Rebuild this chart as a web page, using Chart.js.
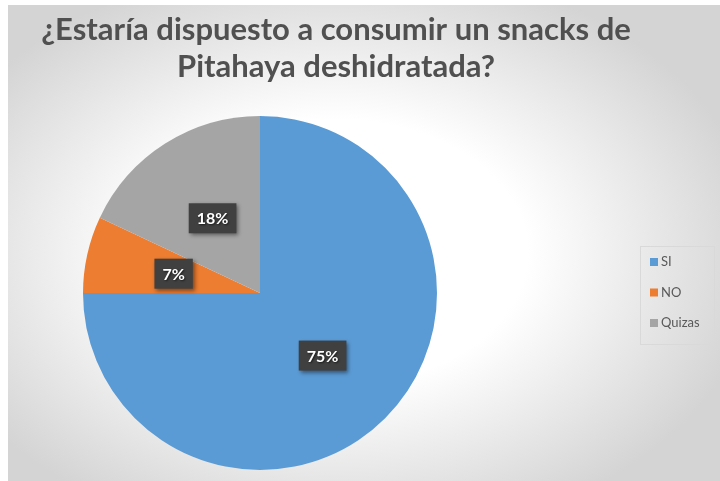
<!DOCTYPE html>
<html>
<head>
<meta charset="utf-8">
<script src="https://cdn.jsdelivr.net/npm/chart.js@4/dist/chart.umd.min.js"></script>
<style>
  html, body { margin: 0; padding: 0; background: #ffffff; }
  #wrap {
    position: absolute; left: 8px; top: 5px; width: 712px; height: 476px;
    background: radial-gradient(ellipse 60% 62% at 46% 52%, #ffffff 45%, #d4d4d4 100%);
  }
  canvas { display: block; }
</style>
</head>
<body>
<div id="wrap"><canvas id="chart" width="712" height="476"></canvas></div>
<script>
// data
const labels = ['SI', 'NO', 'Quizas'];
const values = [75, 7, 18];
const colors = ['#5B9BD5', '#ED7D31', '#A5A5A5'];
const titleLines = ['¿Estaría dispuesto a consumir un snacks de', 'Pitahaya deshidratada?'];

const FONT = 'Lato, "Open Sans", sans-serif';

// title + legend drawn on the canvas
const decorPlugin = {
  id: 'decor',
  afterDraw(chart) {
    const ctx = chart.ctx;
    ctx.save();
    ctx.fillStyle = '#505050';
    ctx.font = 'bold 31px ' + FONT;
    ctx.textAlign = 'center';
    ctx.textBaseline = 'alphabetic';
    ctx.fillText(titleLines[0], 328, 35);
    ctx.fillText(titleLines[1], 328, 72);

    // legend box
    ctx.strokeStyle = '#d9d9d9';
    ctx.lineWidth = 1;
    ctx.strokeRect(632.5, 241.5, 74, 98);
    ctx.textAlign = 'left';
    ctx.textBaseline = 'middle';
    ctx.font = '13px ' + FONT;
    labels.forEach((lab, i) => {
      const y = 257 + i * 30.5;
      ctx.fillStyle = colors[i];
      ctx.fillRect(642, y - 4, 8, 8);
      ctx.fillStyle = '#595959';
      ctx.fillText(lab, 653, y);
    });
    ctx.restore();
  }
};

// dark percentage boxes on the slices
const labelPlugin = {
  id: 'sliceLabels',
  afterDatasetsDraw(chart) {
    const ctx = chart.ctx;
    const meta = chart.getDatasetMeta(0);
    ctx.save();
    ctx.font = 'bold 16px ' + FONT;
    ctx.textAlign = 'center';
    ctx.textBaseline = 'middle';
    meta.data.forEach((arc, i) => {
      const p = arc.tooltipPosition();
      const txt = values[i] + '%';
      const w = ctx.measureText(txt).width + 16;
      const h = 30;
      ctx.shadowColor = 'rgba(0,0,0,0.45)';
      ctx.shadowBlur = 4;
      ctx.shadowOffsetX = 2;
      ctx.shadowOffsetY = 2;
      ctx.fillStyle = '#404040';
      ctx.fillRect(p.x - w / 2, p.y - h / 2, w, h);
      ctx.shadowColor = 'rgba(0,0,0,0.6)';
      ctx.shadowBlur = 2;
      ctx.shadowOffsetX = 1;
      ctx.shadowOffsetY = 1;
      ctx.fillStyle = '#ffffff';
      ctx.fillText(txt, p.x, p.y + 1);
    });
    ctx.restore();
  }
};

const ctx = document.getElementById('chart').getContext('2d');
new Chart(ctx, {
  type: 'pie',
  data: {
    labels: labels,
    datasets: [{
      data: values,
      backgroundColor: colors,
      borderWidth: 0
    }]
  },
  options: {
    responsive: false,
    animation: false,
    layout: { padding: { left: 75, right: 283, top: 111, bottom: 11 } },
    plugins: {
      legend: { display: false },
      title: { display: false },
      tooltip: { enabled: false }
    }
  },
  plugins: [labelPlugin, decorPlugin]
});
</script>
</body>
</html>
